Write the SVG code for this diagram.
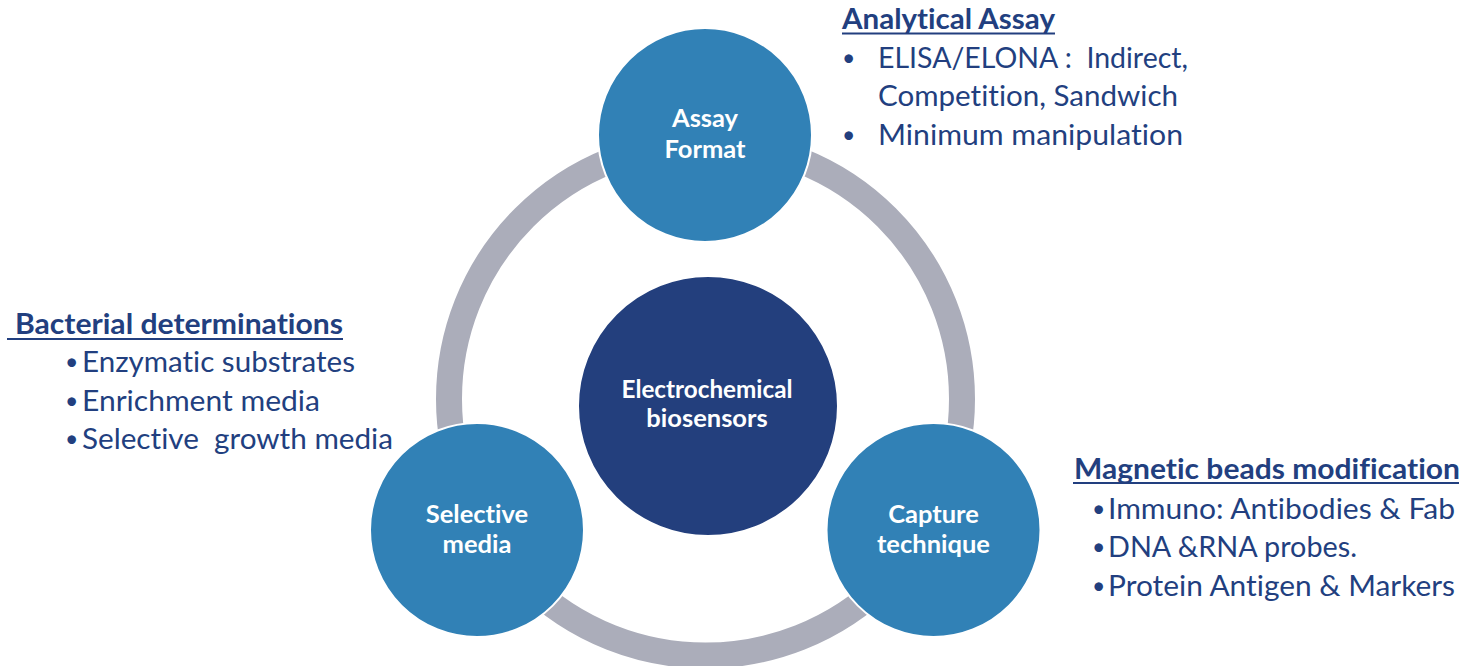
<svg xmlns="http://www.w3.org/2000/svg" width="1466" height="666" viewBox="0 0 1466 666">
<style>
text{font-variant-ligatures:none;font-feature-settings:"liga" 0,"clig" 0}
.node{fill:#3181B6;stroke:#ffffff;stroke-width:2}
.core{fill:#233F7D;stroke:#ffffff;stroke-width:2}
.lbl{font-family:Lato,"Open Sans","DejaVu Sans",sans-serif;font-weight:bold;font-size:25.5px;fill:#ffffff;text-anchor:middle}
.head{font-family:Lato,"Open Sans","DejaVu Sans",sans-serif;font-weight:bold;font-size:28px;fill:#223F7F}
.body{font-family:Lato,"Open Sans","DejaVu Sans",sans-serif;font-size:29px;fill:#223F7F}
.bul{font-family:Lato,"Open Sans","DejaVu Sans",sans-serif;font-size:23px;fill:#223F7F}
.ul{stroke:#223F7F;stroke-width:2}
</style>
<rect width="1466" height="666" fill="#ffffff"/>
<g id="connectors">
<circle cx="705.5" cy="399" r="256.5" fill="none" stroke="#ABADBA" stroke-width="26"/>
</g>
<g id="core">
<circle class="core" cx="708" cy="406" r="130"/>
<text class="lbl" x="707" y="398" textLength="171" lengthAdjust="spacingAndGlyphs">Electrochemical</text>
<text class="lbl" x="707" y="427">biosensors</text>
</g>
<g id="assay-format">
<circle class="node" cx="705" cy="135" r="107"/>
<text class="lbl" x="705" y="127">Assay</text>
<text class="lbl" x="705" y="158">Format</text>
</g>
<g id="selective-media">
<circle class="node" cx="477" cy="530" r="107"/>
<text class="lbl" x="477" y="523">Selective</text>
<text class="lbl" x="477" y="553">media</text>
</g>
<g id="capture-technique">
<circle class="node" cx="933.5" cy="530" r="107"/>
<text class="lbl" x="933.5" y="523">Capture</text>
<text class="lbl" x="933.5" y="553">technique</text>
</g>
<g id="analytical-assay">
<text class="head" x="842" y="29" textLength="213" lengthAdjust="spacingAndGlyphs">Analytical Assay</text>
<line class="ul" x1="842" y1="33.5" x2="1055" y2="33.5"/>
<text class="bul" x="842" y="66">•</text>
<text class="body" x="878" y="68" textLength="310" lengthAdjust="spacingAndGlyphs" xml:space="preserve">ELISA/ELONA :  Indirect,</text>
<text class="body" x="878" y="106" textLength="300" lengthAdjust="spacingAndGlyphs">Competition, Sandwich</text>
<text class="bul" x="842" y="143">•</text>
<text class="body" x="878" y="145" textLength="305" lengthAdjust="spacingAndGlyphs">Minimum manipulation</text>
</g>
<g id="bacterial-determinations">
<text class="head" x="15" y="334" textLength="328" lengthAdjust="spacingAndGlyphs">Bacterial determinations</text>
<line class="ul" x1="7" y1="339" x2="343" y2="339"/>
<text class="bul" x="65" y="370">•</text>
<text class="body" x="82" y="372" textLength="273" lengthAdjust="spacingAndGlyphs">Enzymatic substrates</text>
<text class="bul" x="65" y="409">•</text>
<text class="body" x="82" y="411" textLength="238" lengthAdjust="spacingAndGlyphs">Enrichment media</text>
<text class="bul" x="65" y="447">•</text>
<text class="body" x="82" y="449" textLength="311" lengthAdjust="spacingAndGlyphs" xml:space="preserve">Selective  growth media</text>
</g>
<g id="magnetic-beads">
<text class="head" x="1074" y="479" textLength="386" lengthAdjust="spacingAndGlyphs">Magnetic beads modification</text>
<line class="ul" x1="1073" y1="483" x2="1459" y2="483"/>
<text class="bul" x="1092" y="517">•</text>
<text class="body" x="1108" y="519" textLength="347" lengthAdjust="spacingAndGlyphs">Immuno: Antibodies &amp; Fab</text>
<text class="bul" x="1092" y="555">•</text>
<text class="body" x="1108" y="557" textLength="249" lengthAdjust="spacingAndGlyphs">DNA &amp;RNA probes.</text>
<text class="bul" x="1092" y="594">•</text>
<text class="body" x="1108" y="596" textLength="347" lengthAdjust="spacingAndGlyphs">Protein Antigen &amp; Markers</text>
</g>
</svg>
